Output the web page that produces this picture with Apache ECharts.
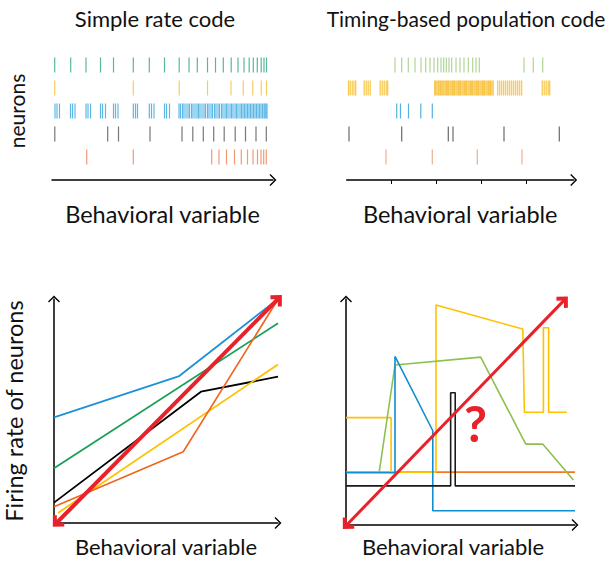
<!DOCTYPE html>
<html><head><meta charset="utf-8">
<script src="https://cdn.jsdelivr.net/npm/echarts@6/dist/echarts.min.js"></script>
<style>html,body{margin:0;padding:0;background:#fff}#c{width:616px;height:561px}</style>
</head><body><div id="c"></div>
<script>
// ---------- DATA ----------
// Spike times (behavioral variable units) per neuron, simple rate code
const rateGreen  = [2.7,18.7,34,48.5,61.5,81.3,97.3,112.5,127.2,137,145.3,155.5,163.5,171.3,179.2,186,192,197.2,201.3,205.3,209.2,212,214.5];
const rateYellow = [2.7,81.3,127.2,155.5,179,191.3,200.8,209.2,214.5];
const rateBlue   = [3,5,7.5,18.5,20.5,23,34,36,38.5,48.5,50.5,53.5,61.5,63.5,66,81.3,83.5,85.5,97.3,99.5,102,112.5,114.5,117.5,
  127,128.5,130.5,132,134,136,137.5,139.5,141,143,145,146.5,148,150,152,153.5,155.5,157,159,160.5,162.5,164,166,167.5,169.5,171,173,174.5,
  176,178,179.5,181,183,184.5,186,188,189.5,191,192.5,194,195.5,197,198.5,200,201.5,203,204.5,206,207.5,209,210.5,212,213,214,215];
const rateBlack  = [2.8,55.7,66.5,98,130,140.8,151.3,161.7,172.2,183.2,193.5,204,214.3];
const rateOrange = [34.7,81.3,159.7,167,174.5,182.5,189.3,195.5,201,205.5,209,211.7,214.3];

// Spike times, timing-based population code
const timeGreen  = [48.3,55,61.6,68.3,74.3,79,83.3,87.3,91,94.3,97,99.6,102.3,105,109.3,113.3,117.3,121.6,126,129.3,132.6,177.3,186.6,196];
const timeYellow = [1.8,3.5,5.5,7.3,9,17.5,19.5,21.5,23.5,33.5,35.5,37.5,39.5,41,
  88,89,90.3,91.5,92.5,93.8,95,96.2,97.3,98.5,99.8,101,102,103.3,104.5,105.8,107,108,109.3,110.5,111.8,113,114,115.3,116.5,117.8,119,120,
  121.3,122.5,123.8,125,126,127.3,128.5,129.8,131,132,133.3,134.5,135.8,137,138,139.3,140.5,141.8,143,144,145.3,146.5,
  151,153,155,157,159,161,163,165,167,169,171,173,175,195.5,197.5,199.5,201.5,203];
const timeBlue   = [50,53.8,61.8,74.1,85.6];
const timeBlack  = [2.3,55,101.6,106.3,157.3,212.6];
const timeOrange = [39.3,85.6,130.6,175.3];
const timeTicks  = [45,90,135,180];

// Firing rate vs behavioral variable, simple rate code
const rcBlue   = [[0,47.2],[55.9,65.6],[100,100]];
const rcGreen  = [[0,24.4],[100,89.2]];
const rcBlack  = [[0,9.1],[65.6,58.6],[100,65.3]];
const rcYellow = [[1.8,4.5],[100,70.8]];
const rcOrange = [[0,7.3],[57.7,31.8],[100,99.9]];
const rcArrow  = [[1.2,0.1],[100,100]];

// Firing rate vs behavioral variable, timing-based code
const tcYellow = [[0,47.5],[19.7,47.5],[19.7,23.4],[39.3,23.4],[39.3,97.3],[77.2,86.7],[77.9,49.9],[86.2,49.9],[86.2,87.3],[88.5,87.3],[88.5,49.9],[96.4,49.9]];
const tcGreen  = [[14.5,23.4],[21.4,70.8],[58.8,74.3],[78.5,35.8],[85.9,35.8],[99.3,19.9]];
const tcBlue   = [[0,23.1],[21.4,23.1],[21.4,74.6],[37.9,41.7],[37.9,6.3],[100,6.3]];
const tcBlack  = [[0,17.3],[45.7,17.3],[45.7,58.5],[47.7,58.5],[47.7,17.3],[100,17.3]];
const tcOrange = [[0,23.4],[100,23.4]];
const tcArrow  = [[0.3,0],[95.2,99.4]];
const tcQuestion = [[56.6,45]];

// ---------- CHART ----------
const FONT = 'Lato';
const chev = 'path://M0,10 L10,0 L20,10 L18.4,11.6 L10,3.2 L1.6,11.6 Z';
const chevBold = 'path://M0,10 L10,0 L20,10 L16.5,13.5 L10,7 L3.5,13.5 Z';
const RED = '#e8222a';

function spikes(vals, row, color, xi) {
  return {type:'scatter', xAxisIndex:xi, yAxisIndex:xi, symbol:'rect', symbolSize:[1.2,15],
    itemStyle:{color:color}, silent:true, animation:false,
    data: vals.map(v => [v, row])};
}
function line(pts, color, w, idx) {
  return {type:'line', xAxisIndex:idx, yAxisIndex:idx, data:pts, symbol:'none', silent:true, animation:false,
    lineStyle:{color:color, width:w}, z:2};
}
function arrow(pts, idx, w) {
  return {type:'line', xAxisIndex:idx, yAxisIndex:idx, data:pts, symbol:'none', silent:true, animation:false,
    lineStyle:{opacity:0}, z:5,
    markLine:{silent:true, animation:false, symbol:[chevBold, chevBold], symbolSize:[16,11],
      lineStyle:{color:RED, width:w, type:'solid'}, label:{show:false}, emphasis:{disabled:true},
      data:[[{coord:pts[0]},{coord:pts[1]}]]}};
}
function ns(size, va, pad) { const o = {fontFamily:FONT, fontSize:size, color:'#111'}; if (va) o.verticalAlign = va; if (pad) o.padding = pad; return o; }
const axLine = {show:true, lineStyle:{color:'#000', width:1.5}, symbol:['none', chev], symbolSize:[12,7]};

const option = {
  animation:false,
  grid:[
    {left:52, top:42, width:221, height:138},
    {left:346.7, top:42, width:227, height:138},
    {left:54, top:299, width:224, height:224},
    {left:346, top:299, width:229, height:226}
  ],
  xAxis:[
    {gridIndex:0, type:'value', min:0, max:221, axisLine:axLine, axisTick:{show:false}, axisLabel:{show:false}, splitLine:{show:false},
      name:'Behavioral variable', nameLocation:'middle', nameGap:34, nameTextStyle:ns(23.5,'middle')},
    {gridIndex:1, type:'value', min:0, max:227, axisLine:axLine, axisTick:{show:true, length:4, customValues:timeTicks, lineStyle:{color:'#000', width:1}},
      axisLabel:{show:false}, splitLine:{show:false},
      name:'Behavioral variable', nameLocation:'middle', nameGap:34, nameTextStyle:ns(23.5,'middle')},
    {gridIndex:2, type:'value', min:0, max:100, axisLine:axLine, axisTick:{show:false}, axisLabel:{show:false}, splitLine:{show:false},
      name:'Behavioral variable', nameLocation:'middle', nameGap:23, nameTextStyle:ns(22,'middle')},
    {gridIndex:3, type:'value', min:0, max:100, axisLine:axLine, axisTick:{show:false}, axisLabel:{show:false}, splitLine:{show:false},
      name:'Behavioral variable', nameLocation:'middle', nameGap:21, nameTextStyle:ns(22,'middle',[0,15,0,0])}
  ],
  yAxis:[
    {gridIndex:0, type:'value', min:0, max:6, axisLine:{show:false}, axisTick:{show:false}, axisLabel:{show:false}, splitLine:{show:false},
      name:'neurons', nameLocation:'middle', nameGap:25, nameTextStyle:ns(21)},
    {gridIndex:1, type:'value', min:0, max:6, show:false},
    {gridIndex:2, type:'value', min:0, max:100, axisLine:axLine, axisTick:{show:false}, axisLabel:{show:false}, splitLine:{show:false},
      name:'Firing rate of neurons', nameLocation:'middle', nameGap:28, nameTextStyle:ns(23.5)},
    {gridIndex:3, type:'value', min:0, max:100, axisLine:axLine, axisTick:{show:false}, axisLabel:{show:false}, splitLine:{show:false}}
  ],
  graphic:[
    {type:'text', x:155, y:18, style:{text:'Simple rate code', font:'22px Lato', fill:'#111', textAlign:'center', textVerticalAlign:'middle'}},
    {type:'text', x:466, y:18, style:{text:'Timing-based population code', font:'21px Lato', fill:'#111', textAlign:'center', textVerticalAlign:'middle'}}
  ],
  series:[
    spikes(rateGreen, 5, '#2fa584', 0),
    spikes(rateYellow, 4, '#f3c23a', 0),
    spikes(rateBlue, 3, '#35a6de', 0),
    spikes(rateBlack, 2, '#555555', 0),
    spikes(rateOrange, 1, '#ec8252', 0),
    spikes(timeGreen, 5, '#9ccb7c', 1),
    spikes(timeYellow, 4, '#f6b81c', 1),
    spikes(timeBlue, 3, '#2a9fd0', 1),
    spikes(timeBlack, 2, '#444444', 1),
    spikes(timeOrange, 1, '#e99a78', 1),
    line(rcBlue, '#1e90d8', 1.8, 2),
    line(rcGreen, '#17a05a', 1.8, 2),
    line(rcBlack, '#000000', 1.8, 2),
    line(rcYellow, '#ffc000', 1.8, 2),
    line(rcOrange, '#f0641e', 1.6, 2),
    arrow(rcArrow, 2, 4),
    line(tcOrange, '#f5781e', 1.6, 3),
    line(tcYellow, '#ffc000', 1.6, 3),
    line(tcGreen, '#8dc14e', 1.6, 3),
    line(tcBlue, '#0f8fd0', 1.6, 3),
    line(tcBlack, '#1a1a1a', 1.6, 3),
    arrow(tcArrow, 3, 3),
    {type:'scatter', xAxisIndex:3, yAxisIndex:3, data:tcQuestion, symbolSize:0, silent:true, animation:false, z:6,
      itemStyle:{opacity:1},
      label:{show:true, position:'inside', formatter:'?', fontFamily:FONT, fontWeight:'bold', fontSize:50, color:RED, opacity:1}}
  ]
};
const chart = echarts.init(document.getElementById('c'), null, {renderer:'svg'});
chart.setOption(option);
</script>
</body></html>
